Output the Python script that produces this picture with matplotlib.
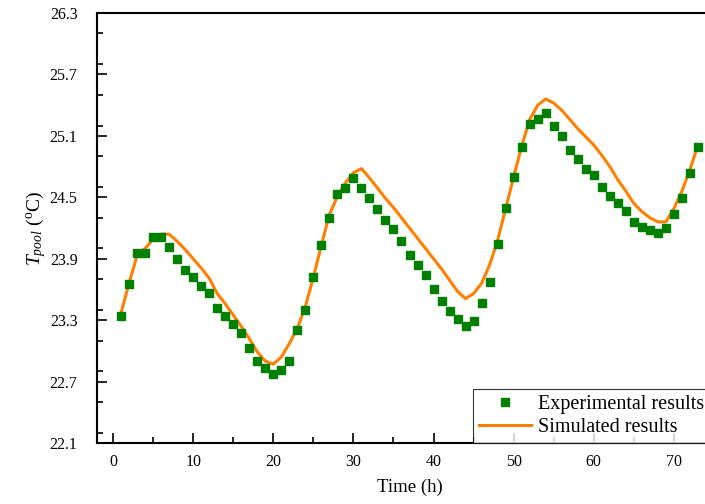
""" Pool water temperature: experimental vs simulated. """

import matplotlib.pyplot as plt
from matplotlib.ticker import MultipleLocator

# Experimental results (hourly readings)
exp_hours = list(range(1, 74))
exp_temp = [23.34, 23.65, 23.96, 23.96, 24.11, 24.11, 24.01, 23.90, 23.79, 23.72,
            23.63, 23.57, 23.42, 23.34, 23.26, 23.17, 23.03, 22.90, 22.83, 22.77,
            22.81, 22.90, 23.20, 23.40, 23.72, 24.03, 24.30, 24.53, 24.59, 24.69,
            24.59, 24.49, 24.39, 24.28, 24.19, 24.07, 23.94, 23.84, 23.74, 23.60,
            23.49, 23.39, 23.31, 23.24, 23.29, 23.47, 23.67, 24.04, 24.40, 24.70,
            24.99, 25.22, 25.26, 25.32, 25.20, 25.10, 24.96, 24.87, 24.78, 24.72,
            24.60, 24.51, 24.44, 24.37, 24.26, 24.21, 24.18, 24.15, 24.20, 24.34,
            24.49, 24.74, 24.99]

# Simulated results
sim_hours = list(range(1, 74))
sim_temp = [23.37, 23.66, 23.93, 24.00, 24.09, 24.14, 24.14, 24.07, 23.99, 23.90,
            23.81, 23.71, 23.56, 23.46, 23.35, 23.24, 23.12, 22.99, 22.90, 22.87,
            22.94, 23.07, 23.22, 23.43, 23.72, 24.03, 24.33, 24.51, 24.64, 24.74,
            24.78, 24.69, 24.59, 24.49, 24.40, 24.30, 24.20, 24.10, 24.00, 23.90,
            23.80, 23.69, 23.58, 23.51, 23.56, 23.66, 23.84, 24.08, 24.39, 24.70,
            25.00, 25.26, 25.40, 25.46, 25.42, 25.35, 25.26, 25.17, 25.09, 25.01,
            24.91, 24.80, 24.67, 24.56, 24.44, 24.36, 24.30, 24.26, 24.26, 24.39,
            24.56, 24.77, 25.01]

y_ticks = [22.1, 22.7, 23.3, 23.9, 24.5, 25.1, 25.7, 26.3]

plt.rcParams['font.family'] = 'Liberation Serif'
plt.rcParams['mathtext.fontset'] = 'custom'
plt.rcParams['mathtext.rm'] = 'Liberation Serif'
plt.rcParams['mathtext.it'] = 'Liberation Serif:italic'

fig = plt.figure(figsize=(7.05, 5.04), dpi=100)
# axes runs a little past the right edge of the picture, as in the original
ax = fig.add_axes([97 / 705, 61 / 504, 625 / 705, 430 / 504])

ax.plot(sim_hours, sim_temp, color='#ff8000', linewidth=2.2,
        label='Simulated results', zorder=2)
ax.plot(exp_hours, exp_temp, linestyle='none', marker='s', markersize=5.8,
        color='#008000', markeredgecolor='#008000',
        label='Experimental results', zorder=3)

ax.set_xlim(-2, 76)
ax.set_ylim(22.1, 26.3)
ax.set_xticks(range(0, 80, 10))
ax.xaxis.set_minor_locator(MultipleLocator(5))
ax.set_yticks(y_ticks)
ax.set_yticklabels([f'{v:.1f}' for v in y_ticks])
ax.yaxis.set_minor_locator(MultipleLocator(0.3))

ax.tick_params(which='both', direction='in', top=False, right=False,
               labelsize=11.5)
ax.tick_params(axis='x', pad=8)
ax.tick_params(axis='y', pad=14)
ax.tick_params(which='major', length=7, width=1.2)
ax.tick_params(which='minor', length=4, width=1.2)
for side in ax.spines.values():
    side.set_linewidth(1.5)

ax.set_xlabel('Time (h)', fontsize=13.5, labelpad=6)
ax.set_ylabel(r'$T_{pool}$ ($^{\rm o}$C)', fontsize=14, labelpad=1)

handles, labels = ax.get_legend_handles_labels()
leg = ax.legend(handles[::-1], labels[::-1], loc='lower left',
                bbox_to_anchor=(376 / 625, 0.0), fontsize=14.5,
                frameon=True, fancybox=False, edgecolor='black',
                handlelength=2.6, handletextpad=0.35, borderpad=0.3,
                labelspacing=0.2, borderaxespad=0)
leg.get_frame().set_linewidth(0.8)

fig.savefig('out.png', dpi=100)
